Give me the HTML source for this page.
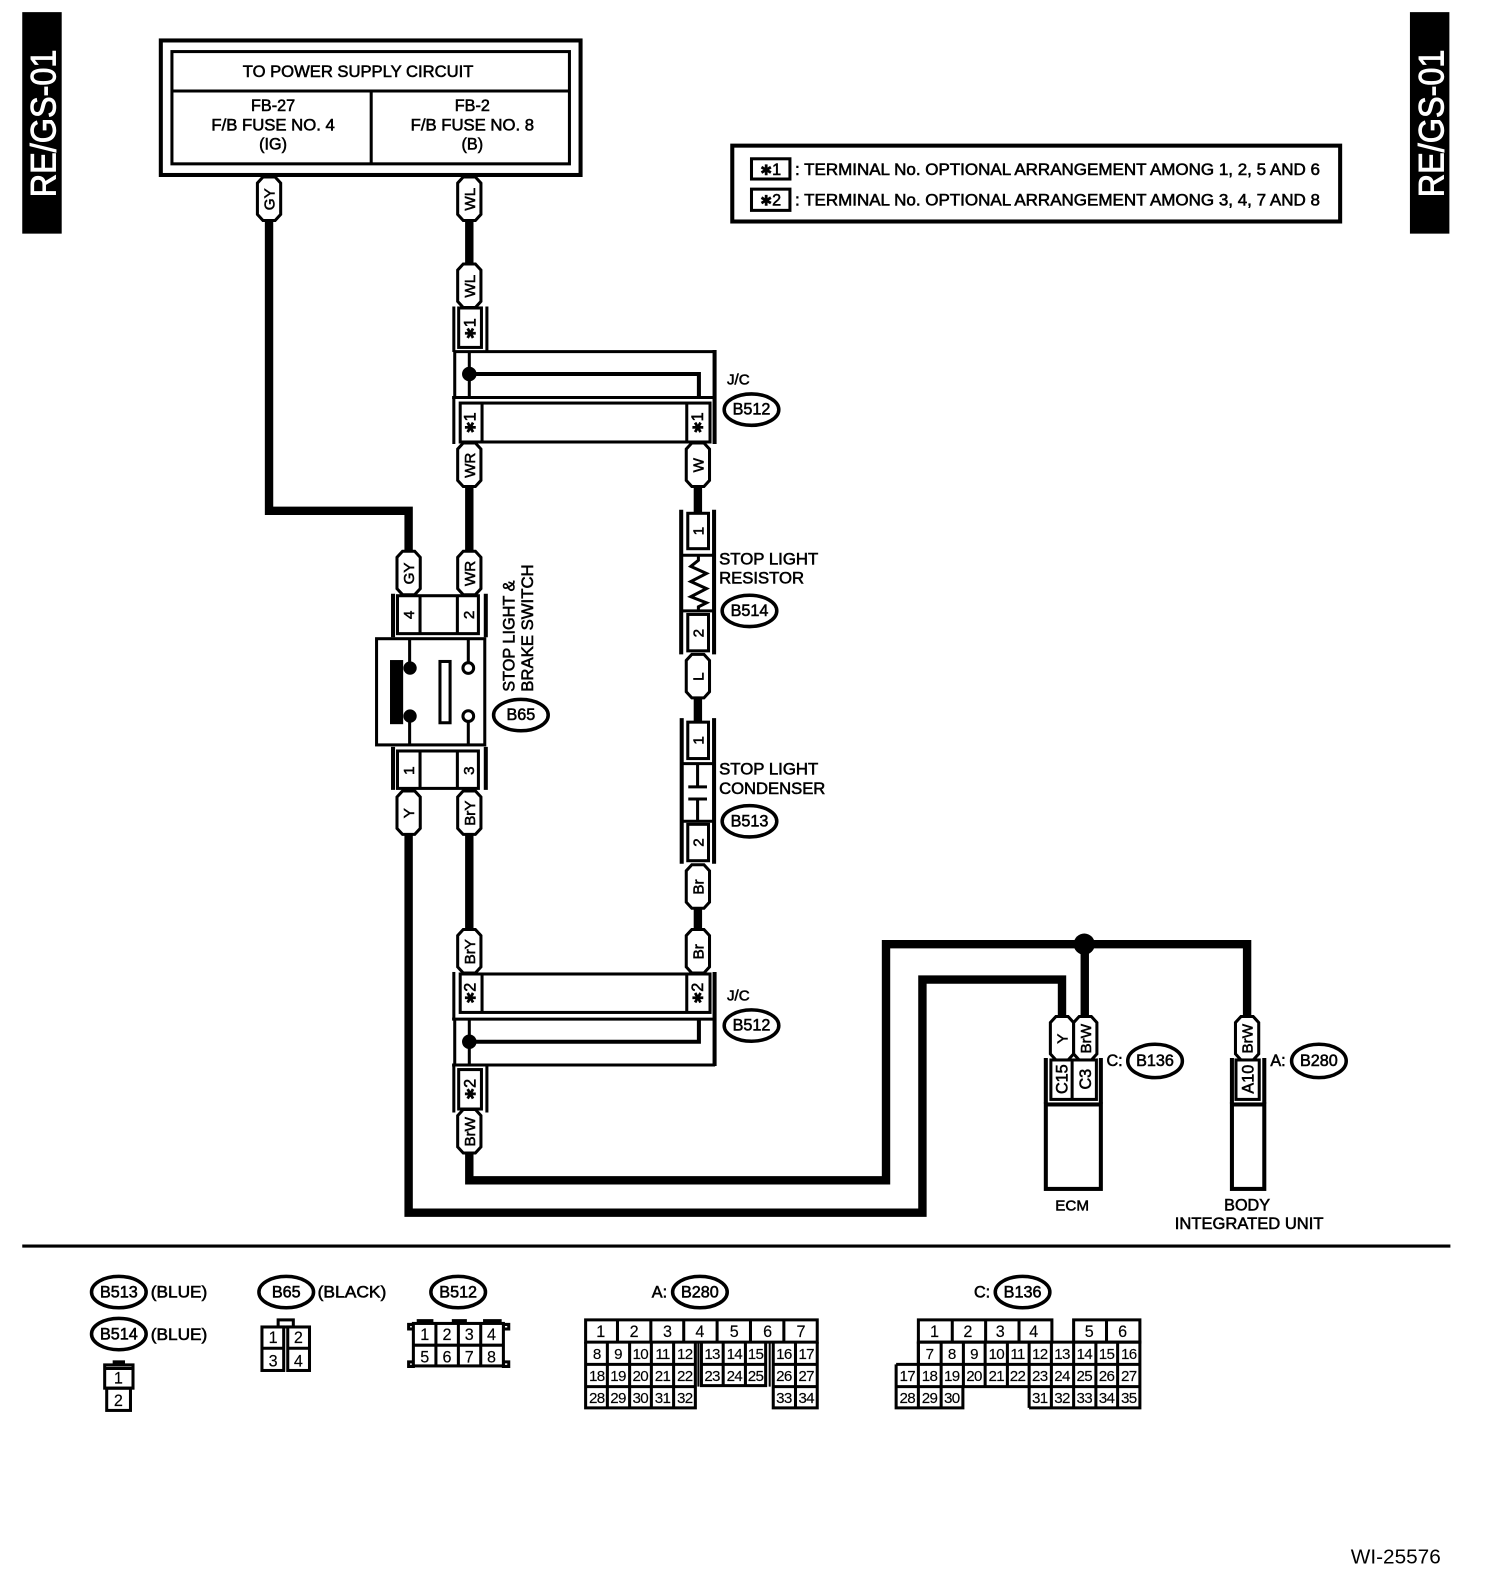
<!DOCTYPE html>
<html><head><meta charset="utf-8"><style>
html,body{margin:0;padding:0;background:#fff}
svg{display:block}
text{font-family:"Liberation Sans",sans-serif;font-size:16px;fill:#000;stroke:#000;stroke-width:.55;text-anchor:middle}
.l{text-anchor:start}
.s{font-size:15px;stroke-width:.55}
.g{font-size:15px;stroke-width:.15;letter-spacing:-.7px}
.gg{font-size:16px;stroke-width:.15}
.w{fill:none;stroke:#000;stroke-width:8.3;stroke-linejoin:miter}
.b{fill:#fff;stroke:#000;stroke-width:3}
.n{fill:none;stroke:#000;stroke-width:3}
.k{fill:none;stroke:#000;stroke-width:4}
.e{fill:#fff;stroke:#000;stroke-width:3.5}
.a{font-family:"DejaVu Sans","Liberation Sans",sans-serif;font-size:14px}
</style></head><body>
<svg width="1504" height="1586" viewBox="0 0 1487 1568.1" preserveAspectRatio="none" xmlns="http://www.w3.org/2000/svg">
<defs><polygon id="p" points="-11.5,6 -6,0 6,0 11.5,6 11.5,37 6,43 -6,43 -11.5,37" fill="#fff" stroke="#000" stroke-width="3"/></defs>
<rect width="1487" height="1569" fill="#fff"/>

<!-- side tabs -->
<rect x="22" y="12" width="39" height="219" fill="#000"/>
<rect x="1394" y="12" width="39" height="219" fill="#000"/>
<text transform="translate(43 122) rotate(-90)" y="12" style="font-size:35px;fill:#fff;stroke:#fff;stroke-width:.9" textLength="146" lengthAdjust="spacingAndGlyphs">RE/GS-01</text>
<text transform="translate(1415 122) rotate(-90)" y="12" style="font-size:35px;fill:#fff;stroke:#fff;stroke-width:.9" textLength="146" lengthAdjust="spacingAndGlyphs">RE/GS-01</text>

<!-- power box -->
<rect x="159" y="40" width="415" height="133" class="k" fill="none"/>
<rect x="170" y="51" width="393" height="111" class="n"/>
<path d="M170 90H563M367 90V162" class="n"/>
<text x="354" y="76" textLength="228" lengthAdjust="spacingAndGlyphs">TO POWER SUPPLY CIRCUIT</text>
<text x="270" y="110">FB-27</text>
<text x="270" y="129" textLength="122" lengthAdjust="spacingAndGlyphs">F/B FUSE NO. 4</text>
<text x="270" y="148">(IG)</text>
<text x="467" y="110">FB-2</text>
<text x="467" y="129" textLength="122" lengthAdjust="spacingAndGlyphs">F/B FUSE NO. 8</text>
<text x="467" y="148">(B)</text>

<!-- note box -->
<rect x="724" y="144" width="601" height="75" class="k"/>
<rect x="743" y="157" width="38" height="20" class="n"/>
<rect x="743" y="187" width="38" height="21" class="n"/>
<text x="762" y="173"><tspan class="a">✱</tspan>1</text>
<text x="762" y="203"><tspan class="a">✱</tspan>2</text>
<text x="786" y="173" class="l" textLength="519" lengthAdjust="spacingAndGlyphs">: TERMINAL No. OPTIONAL ARRANGEMENT AMONG 1, 2, 5 AND 6</text>
<text x="786" y="203" class="l" textLength="519" lengthAdjust="spacingAndGlyphs">: TERMINAL No. OPTIONAL ARRANGEMENT AMONG 3, 4, 7 AND 8</text>

<!-- wires -->
<path class="w" d="M266 215V505H404V548"/>
<path class="w" d="M464 215V264"/>
<path class="w" d="M464 478V548"/>
<path class="w" d="M690 478V508"/>
<path class="w" d="M690 688V715"/>
<path class="w" d="M690 895V922"/>
<path class="w" d="M464 822V922"/>
<path class="w" d="M404 822V1199H912V968.5H1050V1008"/>
<path class="w" d="M464 1137V1167H876V933.5H1233V1008"/>
<path class="w" d="M1072.5 933V1008"/>
<circle cx="1072" cy="933.5" r="10.5" fill="#000"/>

<!-- pills -->
<use href="#p" x="266" y="175"/><text transform="translate(266 197) rotate(-90)" y="5.5" class="s">GY</text>
<use href="#p" x="464" y="175"/><text transform="translate(464 197) rotate(-90)" y="5.5" class="s">WL</text>
<use href="#p" x="464" y="261"/><text transform="translate(464 283) rotate(-90)" y="5.5" class="s">WL</text>
<use href="#p" x="464" y="438"/><text transform="translate(464 460) rotate(-90)" y="5.5" class="s">WR</text>
<use href="#p" x="690" y="438"/><text transform="translate(690 460) rotate(-90)" y="5.5" class="s">W</text>
<use href="#p" x="404" y="545"/><text transform="translate(404 567) rotate(-90)" y="5.5" class="s">GY</text>
<use href="#p" x="464" y="545"/><text transform="translate(464 567) rotate(-90)" y="5.5" class="s">WR</text>
<use href="#p" x="404" y="782"/><text transform="translate(404 804) rotate(-90)" y="5.5" class="s">Y</text>
<use href="#p" x="464" y="782"/><text transform="translate(464 804) rotate(-90)" y="5.5" class="s">BrY</text>
<use href="#p" x="690" y="647"/><text transform="translate(690 669) rotate(-90)" y="5.5" class="s">L</text>
<use href="#p" x="690" y="855"/><text transform="translate(690 877) rotate(-90)" y="5.5" class="s">Br</text>
<use href="#p" x="690" y="919"/><text transform="translate(690 941) rotate(-90)" y="5.5" class="s">Br</text>
<use href="#p" x="464" y="919"/><text transform="translate(464 941) rotate(-90)" y="5.5" class="s">BrY</text>
<use href="#p" x="464" y="1097"/><text transform="translate(464 1119) rotate(-90)" y="5.5" class="s">BrW</text>
<use href="#p" x="1050" y="1005"/><text transform="translate(1050 1027) rotate(-90)" y="5.5" class="s">Y</text>
<use href="#p" x="1073" y="1005"/><text transform="translate(1073 1027) rotate(-90)" y="5.5" class="s">BrW</text>
<use href="#p" x="1233" y="1005"/><text transform="translate(1233 1027) rotate(-90)" y="5.5" class="s">BrW</text>

<!-- top J/C -->
<path class="n" d="M448.7 303V348M481.4 303V348"/>
<rect x="453.5" y="304.5" width="22.5" height="39" class="b"/>
<text transform="translate(465 325) rotate(-90)" y="5"><tspan class="a">✱</tspan>1</text>
<path class="n" d="M449.6 347.7H706M449.6 347.7V393M447 393H706"/>
<path class="k" d="M706.5 346V439"/>
<path class="n" d="M464 348V393"/>
<circle cx="464" cy="369.8" r="7.2" fill="#000"/>
<path class="k" d="M464 369.8H691V393"/>
<path class="n" d="M448.7 393V439"/>
<rect x="455" y="398.5" width="247" height="38.5" class="b"/>
<path class="n" d="M476.6 398V437M679 398V437"/>
<text transform="translate(465 418) rotate(-90)" y="5"><tspan class="a">✱</tspan>1</text>
<text transform="translate(690 418) rotate(-90)" y="5"><tspan class="a">✱</tspan>1</text>
<text x="730" y="380" style="font-size:15px">J/C</text>
<ellipse cx="743" cy="405" rx="27" ry="15.5" class="e"/>
<text x="743" y="410">B512</text>

<!-- stop light switch -->
<path class="k" d="M388.6 587V630M480.3 587V630M388.6 738.5V781M480.3 738.5V781"/>
<rect x="393" y="589" width="80" height="37.5" class="b"/>
<path class="n" d="M415.3 589V627M452.2 589V627"/>
<text transform="translate(404 608) rotate(-90)" y="5.5" class="s">4</text>
<text transform="translate(463 608) rotate(-90)" y="5.5" class="s">2</text>
<rect x="372.3" y="631.5" width="107" height="105" class="b"/>
<rect x="385.6" y="652.6" width="13" height="63.4" fill="#000"/>
<circle cx="405.4" cy="660.5" r="6.6" fill="#000"/><circle cx="405.4" cy="708" r="6.6" fill="#000"/>
<path class="n" d="M405 631V660M405 708V737M463 631V655M463 713V737"/>
<rect x="435" y="654" width="10" height="60.6" class="b"/>
<circle cx="463" cy="660.5" r="5.3" class="b"/><circle cx="463" cy="708" r="5.3" class="b"/>
<rect x="393" y="742.5" width="80" height="37" class="b"/>
<path class="n" d="M415.3 743V780M452.2 743V780"/>
<text transform="translate(404 762) rotate(-90)" y="5.5" class="s">1</text>
<text transform="translate(463 762) rotate(-90)" y="5.5" class="s">3</text>
<text transform="translate(508.5 684) rotate(-90)" class="l" textLength="110" lengthAdjust="spacingAndGlyphs">STOP LIGHT &amp;</text>
<text transform="translate(527 684) rotate(-90)" class="l" textLength="126" lengthAdjust="spacingAndGlyphs">BRAKE SWITCH</text>
<ellipse cx="515" cy="707" rx="27" ry="15.5" class="e"/>
<text x="515" y="712">B65</text>

<!-- resistor -->
<path class="k" d="M673.5 504V647M706 504V647"/>
<rect x="680" y="507.5" width="20.5" height="35" class="b"/>
<text transform="translate(690 525) rotate(-90)" y="5.5" class="s">1</text>
<path class="n" d="M674 549H706M674 604H706"/>
<path d="M690.5 549V554L683 560L698.5 567L683 575L698.5 582L683 590L698.5 596L690.5 600V604" fill="none" stroke="#000" stroke-width="3"/>
<rect x="680" y="607.5" width="20.5" height="36" class="b"/>
<text transform="translate(690 626) rotate(-90)" y="5.5" class="s">2</text>
<text x="711" y="558" class="l" textLength="98" lengthAdjust="spacingAndGlyphs">STOP LIGHT</text>
<text x="711" y="577" class="l" textLength="84" lengthAdjust="spacingAndGlyphs">RESISTOR</text>
<ellipse cx="741" cy="604" rx="27" ry="15.5" class="e"/>
<text x="741" y="609">B514</text>

<!-- condenser -->
<path class="k" d="M674 710V854M706 710V854"/>
<rect x="680" y="714" width="20.5" height="36" class="b"/>
<text transform="translate(690 732) rotate(-90)" y="5.5" class="s">1</text>
<path class="n" d="M674 755H706M674 812H706"/>
<path d="M689.7 755V778M680.5 778H699M680.5 790H699M689.7 790V812" fill="none" stroke="#000" stroke-width="3"/>
<rect x="680" y="815" width="20.5" height="36" class="b"/>
<text transform="translate(690 833) rotate(-90)" y="5.5" class="s">2</text>
<text x="711" y="766" class="l" textLength="98" lengthAdjust="spacingAndGlyphs">STOP LIGHT</text>
<text x="711" y="785" class="l" textLength="105" lengthAdjust="spacingAndGlyphs">CONDENSER</text>
<ellipse cx="741" cy="812" rx="27" ry="15.5" class="e"/>
<text x="741" y="817">B513</text>

<!-- bottom J/C -->
<path class="n" d="M448.7 961V1007"/>
<path class="k" d="M706.5 961V1054"/>
<rect x="455" y="963" width="247" height="38" class="b"/>
<path class="n" d="M476.6 963V1001M679 963V1001"/>
<text transform="translate(465 982) rotate(-90)" y="5"><tspan class="a">✱</tspan>2</text>
<text transform="translate(690 982) rotate(-90)" y="5"><tspan class="a">✱</tspan>2</text>
<path class="n" d="M447 1007.6H706M449.6 1007.6V1053M447 1053H707M464 1007.6V1053"/>
<circle cx="464" cy="1030" r="7.2" fill="#000"/>
<path class="k" d="M464 1030H691V1007"/>
<path class="n" d="M448.7 1053V1100M481.4 1053V1100"/>
<rect x="453.5" y="1057.5" width="22.5" height="39" class="b"/>
<text transform="translate(465 1077) rotate(-90)" y="5"><tspan class="a">✱</tspan>2</text>
<text x="730" y="989" style="font-size:15px">J/C</text>
<ellipse cx="743" cy="1014" rx="27" ry="15.5" class="e"/>
<text x="743" y="1019">B512</text>

<!-- ECM -->
<path class="k" d="M1034 1046V1091M1088.4 1046V1091"/>
<rect x="1039" y="1048" width="45" height="39" class="b"/>
<path class="n" d="M1060 1048V1087"/>
<text transform="translate(1050 1067) rotate(-90)" y="5.5">C15</text>
<text transform="translate(1073 1067) rotate(-90)" y="5.5">C3</text>
<rect x="1034" y="1092" width="54.4" height="83.5" class="k"/>
<text x="1060" y="1197" class="s">ECM</text>
<text x="1094" y="1054" class="l">C:</text>
<ellipse cx="1142" cy="1049" rx="27" ry="16.5" class="e"/>
<text x="1142" y="1054">B136</text>

<!-- BIU -->
<path class="k" d="M1218 1046V1091M1250 1046V1091"/>
<rect x="1222" y="1048" width="23" height="39" class="b"/>
<text transform="translate(1234 1067) rotate(-90)" y="5.5">A10</text>
<rect x="1218" y="1092" width="32" height="83.5" class="k"/>
<text x="1233" y="1197">BODY</text>
<text x="1235" y="1215" textLength="147" lengthAdjust="spacingAndGlyphs">INTEGRATED UNIT</text>
<text x="1256" y="1054" class="l">A:</text>
<ellipse cx="1304" cy="1049" rx="27" ry="16.5" class="e"/>
<text x="1304" y="1054">B280</text>

<path d="M22 1232H1434" stroke="#000" stroke-width="3"/>

<!-- legends -->
<ellipse cx="117.5" cy="1277.5" rx="27" ry="15.5" class="e"/><text x="117.5" y="1283">B513</text>
<text x="149" y="1283" class="l" textLength="56" lengthAdjust="spacingAndGlyphs">(BLUE)</text>
<ellipse cx="117.5" cy="1319" rx="27" ry="15.5" class="e"/><text x="117.5" y="1324.5">B514</text>
<text x="149" y="1325" class="l" textLength="56" lengthAdjust="spacingAndGlyphs">(BLUE)</text>
<rect x="111.4" y="1345" width="12.2" height="4" fill="#000"/>
<path class="n" d="M103 1353H131"/>
<rect x="103.5" y="1349.5" width="28" height="23" class="n"/>
<rect x="105.5" y="1372.5" width="23.5" height="22" class="n"/>
<text x="117" y="1368" class="gg">1</text><text x="117" y="1390" class="gg">2</text>

<ellipse cx="283" cy="1277.5" rx="27" ry="15.5" class="e"/><text x="283" y="1283">B65</text>
<text x="314" y="1283" class="l" textLength="68" lengthAdjust="spacingAndGlyphs">(BLACK)</text>
<rect x="275" y="1305" width="15" height="7" class="n"/>
<rect x="259" y="1312" width="21.5" height="43" class="b"/>
<rect x="284.5" y="1312" width="21.5" height="43" class="b"/>
<path class="n" d="M259 1333H280.5M284.5 1333H306"/>
<text x="270" y="1328" class="gg">1</text><text x="295" y="1328" class="gg">2</text>
<text x="270" y="1351" class="gg">3</text><text x="295" y="1351" class="gg">4</text>

<ellipse cx="453" cy="1277.5" rx="27" ry="15.5" class="e"/><text x="453" y="1283">B512</text>
<path d="M412 1306H428.5M446.7 1306H461.6M477.6 1306H496" stroke="#000" stroke-width="3.5" fill="none"/>
<path class="n" d="M404 1309.5H408.7V1314H404ZM497.7 1309.5H503V1314H497.7ZM404 1346.5H408.7V1351H404ZM497.7 1346.5H503V1351H497.7Z"/>
<rect x="408.7" y="1308.5" width="89" height="42" class="b"/>
<path class="n" d="M409 1330H498M431 1308V1351M453.2 1308V1351M475.3 1308V1351"/>
<text x="420" y="1325" class="gg">1</text><text x="442" y="1325" class="gg">2</text><text x="464" y="1325" class="gg">3</text><text x="486" y="1325" class="gg">4</text>
<text x="420" y="1347" class="gg">5</text><text x="442" y="1347" class="gg">6</text><text x="464" y="1347" class="gg">7</text><text x="486" y="1347" class="gg">8</text>

<!-- A: B280 -->
<text x="652" y="1283">A:</text>
<ellipse cx="692" cy="1277.5" rx="27" ry="15.5" class="e"/><text x="692" y="1283">B280</text>
<path class="n" d="M579 1305H808V1327H579ZM610.5 1305V1327M643.5 1305V1327M676 1305V1327M709 1305V1327M742 1305V1327M775 1305V1327"/>
<path class="n" d="M579 1327V1392H687.5V1327M579 1349H687.5M579 1371H687.5M600.5 1327V1392M622.5 1327V1392M644 1327V1392M666 1327V1392"/>
<path d="M690.5 1327V1371M761 1327V1371" stroke="#000" stroke-width="2" fill="none"/>
<path class="n" d="M693.5 1327V1370H757V1327M693.5 1349H757M715 1327V1370M737 1327V1370"/>
<path class="n" d="M764.5 1327V1392H808V1327M764.5 1349H808M764.5 1371H808M786.5 1327V1392"/>
<text x="594" y="1322" class="gg">1</text><text x="627" y="1322" class="gg">2</text><text x="660" y="1322" class="gg">3</text><text x="692" y="1322" class="gg">4</text><text x="726" y="1322" class="gg">5</text><text x="759" y="1322" class="gg">6</text><text x="792" y="1322" class="gg">7</text>
<text x="590" y="1343.5" class="g">8</text><text x="611" y="1343.5" class="g">9</text><text x="633" y="1343.5" class="g">10</text><text x="655" y="1343.5" class="g">11</text><text x="677" y="1343.5" class="g">12</text><text x="704" y="1343.5" class="g">13</text><text x="726" y="1343.5" class="g">14</text><text x="747" y="1343.5" class="g">15</text><text x="775" y="1343.5" class="g">16</text><text x="797" y="1343.5" class="g">17</text>
<text x="590" y="1365.5" class="g">18</text><text x="611" y="1365.5" class="g">19</text><text x="633" y="1365.5" class="g">20</text><text x="655" y="1365.5" class="g">21</text><text x="677" y="1365.5" class="g">22</text><text x="704" y="1365.5" class="g">23</text><text x="726" y="1365.5" class="g">24</text><text x="747" y="1365.5" class="g">25</text><text x="775" y="1365.5" class="g">26</text><text x="797" y="1365.5" class="g">27</text>
<text x="590" y="1387" class="g">28</text><text x="611" y="1387" class="g">29</text><text x="633" y="1387" class="g">30</text><text x="655" y="1387" class="g">31</text><text x="677" y="1387" class="g">32</text><text x="775" y="1387" class="g">33</text><text x="797" y="1387" class="g">34</text>

<!-- C: B136 -->
<text x="971" y="1283">C:</text>
<ellipse cx="1011" cy="1277.5" rx="27" ry="15.5" class="e"/><text x="1011" y="1283">B136</text>
<path class="n" d="M908 1305H1040V1327H908ZM941.5 1305V1327M974.5 1305V1327M1007.5 1305V1327"/>
<path class="n" d="M1061.5 1305H1127V1327H1061.5ZM1094 1305V1327"/>
<path class="n" d="M886 1349V1392H952V1371M886 1371H952M952 1371H1017.5M1017.5 1392H1127V1327H908V1349M886 1349H1127M1017.5 1371H1127M1017.5 1327V1392"/>
<path class="n" d="M908 1327V1392M930.5 1327V1392M952.5 1327V1371M974 1327V1371M996 1327V1371M1039.5 1327V1392M1061.5 1327V1392M1083.5 1327V1392M1105 1327V1392"/>
<text x="924" y="1322" class="gg">1</text><text x="957" y="1322" class="gg">2</text><text x="989" y="1322" class="gg">3</text><text x="1022" y="1322" class="gg">4</text><text x="1077" y="1322" class="gg">5</text><text x="1110" y="1322" class="gg">6</text>
<text x="919" y="1343.5" class="g">7</text><text x="941" y="1343.5" class="g">8</text><text x="963" y="1343.5" class="g">9</text><text x="985" y="1343.5" class="g">10</text><text x="1006" y="1343.5" class="g">11</text><text x="1028" y="1343.5" class="g">12</text><text x="1050" y="1343.5" class="g">13</text><text x="1072" y="1343.5" class="g">14</text><text x="1094" y="1343.5" class="g">15</text><text x="1116" y="1343.5" class="g">16</text>
<text x="897" y="1365.5" class="g">17</text><text x="919" y="1365.5" class="g">18</text><text x="941" y="1365.5" class="g">19</text><text x="963" y="1365.5" class="g">20</text><text x="985" y="1365.5" class="g">21</text><text x="1006" y="1365.5" class="g">22</text><text x="1028" y="1365.5" class="g">23</text><text x="1050" y="1365.5" class="g">24</text><text x="1072" y="1365.5" class="g">25</text><text x="1094" y="1365.5" class="g">26</text><text x="1116" y="1365.5" class="g">27</text>
<text x="897" y="1387" class="g">28</text><text x="919" y="1387" class="g">29</text><text x="941" y="1387" class="g">30</text><text x="1028" y="1387" class="g">31</text><text x="1050" y="1387" class="g">32</text><text x="1072" y="1387" class="g">33</text><text x="1094" y="1387" class="g">34</text><text x="1116" y="1387" class="g">35</text>

<text x="1380" y="1546" style="font-size:20px;stroke-width:0" textLength="89" lengthAdjust="spacingAndGlyphs">WI-25576</text>
</svg>
</body></html>
